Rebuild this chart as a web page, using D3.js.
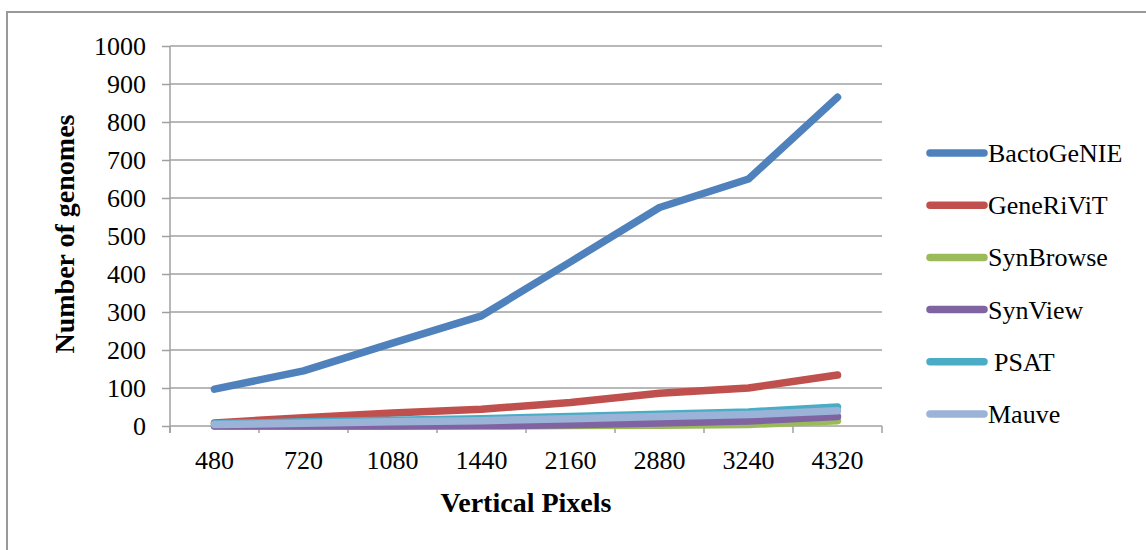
<!DOCTYPE html>
<html>
<head>
<meta charset="utf-8">
<script src="https://cdn.jsdelivr.net/npm/d3@7"></script>
<style>
  body { margin: 0; background: #fff; }
  text { font-family: "Liberation Serif", "Times New Roman", serif; fill: #000; }
</style>
</head>
<body>
<div id="chart-area"></div>
<script>
// Chart data
var categories = ["480", "720", "1080", "1440", "2160", "2880", "3240", "4320"];
var seriesNames = ["BactoGeNIE", "GeneRiViT", "SynBrowse", "SynView", "PSAT", "Mauve"];
var seriesColors = ["#4F81BD", "#C0504D", "#9BBB59", "#8064A2", "#4BACC6", "#9BB3D6"];
var bactoGeNIE = [97, 145, 218, 290, 432, 575, 650, 865];
var geneRiViT = [8, 22, 34, 44, 62, 86, 100, 134];
var synBrowse = [0, 0, 0, 0, 1, 2, 4, 14];
var synView = [0, 0, 0, 1, 3, 8, 13, 25];
var psat = [6, 11, 15, 19, 25, 31, 37, 50];
var mauve = [4, 7, 11, 14, 19, 25, 30, 40];
var yTicks = [0, 100, 200, 300, 400, 500, 600, 700, 800, 900, 1000];

var allSeries = [bactoGeNIE, geneRiViT, synBrowse, synView, psat, mauve];

var W = 1146, H = 550;
var margin = { left: 170, top: 46, right: 264, bottom: 124 };
var width = W - margin.left - margin.right,
    height = H - margin.top - margin.bottom;

var svg = d3.select("#chart-area").append("svg")
    .attr("width", W)
    .attr("height", H);

// outer chart border (runs off right and bottom)
svg.append("rect")
    .attr("x", 7)
    .attr("y", 12)
    .attr("width", W + 20)
    .attr("height", H + 20)
    .attr("fill", "none")
    .attr("stroke", "#999")
    .attr("stroke-width", 2);

var g = svg.append("g")
    .attr("transform", "translate(" + margin.left + "," + margin.top + ")");

// Scales
var x = d3.scaleBand().domain(categories).range([0, width]).padding(0);
var y = d3.scaleLinear().domain([0, 1000]).range([height, 0]);

// y axis ticks + labels
var yAxisCall = d3.axisLeft(y)
    .tickValues(yTicks)
    .tickFormat(d3.format("d"))
    .tickSize(8)
    .tickPadding(16);

var yAxis = g.append("g").attr("class", "y axis").call(yAxisCall);
yAxis.select(".domain").remove();
yAxis.selectAll(".tick line").attr("stroke", "#a0a0a0").attr("stroke-width", 1.5);
yAxis.selectAll(".tick text")
    .attr("font-size", 26)
    .attr("font-family", "Liberation Serif");

// gridlines
g.append("g").attr("class", "grid")
    .selectAll("line")
    .data(yTicks)
    .enter().append("line")
    .attr("x1", 0)
    .attr("x2", width)
    .attr("y1", function (d) { return y(d); })
    .attr("y2", function (d) { return y(d); })
    .attr("stroke", "#a0a0a0")
    .attr("stroke-width", 1.5);

// vertical axis line
g.append("line")
    .attr("x1", 0).attr("x2", 0)
    .attr("y1", 0).attr("y2", height + 7)
    .attr("stroke", "#a0a0a0")
    .attr("stroke-width", 1.5);

// x axis: labels at band centres, ticks at band edges
var xAxisCall = d3.axisBottom(x).tickSize(0).tickPadding(25);
var xAxis = g.append("g")
    .attr("class", "x axis")
    .attr("transform", "translate(0," + height + ")")
    .call(xAxisCall);
xAxis.select(".domain").remove();
xAxis.selectAll(".tick text")
    .attr("font-size", 26)
    .attr("font-family", "Liberation Serif");

var edges = categories.map(function (c) { return x(c); }).concat([width]);
xAxis.selectAll("line.edge")
    .data(edges)
    .enter().append("line")
    .attr("class", "edge")
    .attr("x1", function (d) { return d; })
    .attr("x2", function (d) { return d; })
    .attr("y1", 0)
    .attr("y2", 7)
    .attr("stroke", "#a0a0a0")
    .attr("stroke-width", 1.5);

// Axis titles
g.append("text")
    .attr("x", width / 2)
    .attr("y", height + 86)
    .attr("text-anchor", "middle")
    .attr("font-size", 28)
    .attr("font-weight", "bold")
    .text("Vertical Pixels");

g.append("text")
    .attr("transform", "rotate(-90)")
    .attr("x", -height / 2 + 2)
    .attr("y", -96)
    .attr("text-anchor", "middle")
    .attr("font-size", 28)
    .attr("font-weight", "bold")
    .text("Number of genomes");

// Lines
var lineGenerator = d3.line()
    .x(function (d, i) { return x(categories[i]) + x.bandwidth() / 2; })
    .y(function (d) { return y(d); });

g.selectAll("path.line")
    .data(allSeries)
    .enter().append("path")
    .attr("class", "line")
    .attr("fill", "none")
    .attr("stroke", function (d, i) { return seriesColors[i]; })
    .attr("stroke-width", 7.5)
    .attr("stroke-linecap", "round")
    .attr("stroke-linejoin", "round")
    .attr("d", lineGenerator);

// Legend
var legend = svg.append("g")
    .attr("transform", "translate(930,153)");

var item = legend.selectAll("g.item")
    .data(seriesNames)
    .enter().append("g")
    .attr("class", "item")
    .attr("transform", function (d, i) { return "translate(0," + (i * 52.2) + ")"; });

item.append("line")
    .attr("x1", 0).attr("x2", 54)
    .attr("y1", 0).attr("y2", 0)
    .attr("stroke", function (d, i) { return seriesColors[i]; })
    .attr("stroke-width", 7.5)
    .attr("stroke-linecap", "round");

item.append("text")
    .attr("x", function (d) { return d === "PSAT" ? 64 : 58; })
    .attr("y", 9)
    .attr("font-size", 26)
    .text(function (d) { return d; });
</script>
</body>
</html>
